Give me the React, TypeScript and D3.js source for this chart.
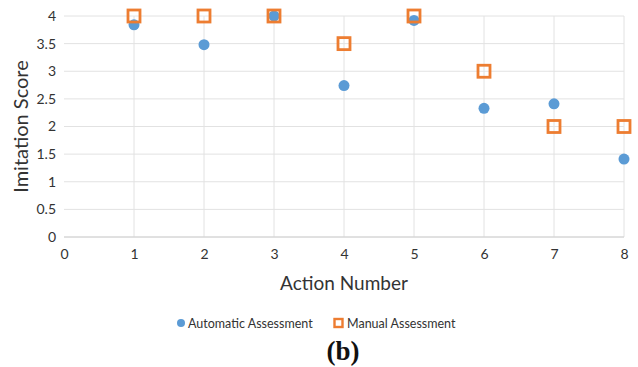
import { useEffect, useRef } from 'react';
import * as d3 from 'd3';

const actions = [1, 2, 3, 4, 5, 6, 7, 8];
const automatic = [3.84, 3.48, 4.0, 2.74, 3.92, 2.33, 2.41, 1.41];
const manual = [4, 4, 4, 3.5, 4, 3, 2, 2];
const xTicks = [0, 1, 2, 3, 4, 5, 6, 7, 8];
const yTicks = [0, 0.5, 1, 1.5, 2, 2.5, 3, 3.5, 4];

const BLUE = '#5B9BD5';
const ORANGE = '#ED7D31';
const FONT = 'Lato, Open Sans, sans-serif';

export default function App() {
  const ref = useRef<SVGSVGElement>(null);

  useEffect(() => {
    const el = ref.current;
    if (!el) return;
    const svg = d3.select(el);
    svg.selectAll('*').remove();

    const W = 638, H = 367;
    const x = d3.scaleLinear().domain([0, 8]).range([64, 624]);
    const y = d3.scaleLinear().domain([0, 4]).range([237, 16]);

    svg.append('rect').attr('width', W).attr('height', H).attr('fill', '#fff');

    // grid
    const grid = svg.append('g');
    grid.selectAll('line.h').data(yTicks).join('line')
      .attr('x1', x(0)).attr('x2', x(8))
      .attr('y1', d => y(d)).attr('y2', d => y(d))
      .attr('stroke', '#e2e2e2').attr('stroke-width', 1);
    grid.selectAll('line.v').data(xTicks.slice(1)).join('line')
      .attr('x1', d => x(d)).attr('x2', d => x(d))
      .attr('y1', y(0)).attr('y2', y(4))
      .attr('stroke', '#e2e2e2').attr('stroke-width', 1);
    svg.append('line')
      .attr('x1', x(0)).attr('x2', x(8)).attr('y1', y(0)).attr('y2', y(0))
      .attr('stroke', '#d0d0d0');

    // axes
    const yAxis = svg.append('g').attr('transform', `translate(${x(0)},0)`)
      .call(d3.axisLeft(y).tickValues(yTicks).tickSize(0).tickPadding(8).tickFormat(d => `${d}`));
    yAxis.select('.domain').remove();
    yAxis.selectAll('text').style('font-family', FONT).style('font-size', '14px').style('fill', '#333');

    const xAxis = svg.append('g').attr('transform', `translate(0,${y(0)})`)
      .call(d3.axisBottom(x).tickValues(xTicks).tickSize(0).tickPadding(12).tickFormat(d => `${d}`));
    xAxis.select('.domain').remove();
    xAxis.selectAll('text').style('font-family', FONT).style('font-size', '14px').style('fill', '#333');

    svg.append('text')
      .attr('transform', `translate(28,${(y(0) + y(4)) / 2}) rotate(-90)`)
      .attr('text-anchor', 'middle')
      .style('font-family', FONT).style('font-size', '20px').style('fill', '#333')
      .text('Imitation Score');

    svg.append('text')
      .attr('x', 344).attr('y', 290)
      .attr('text-anchor', 'middle')
      .style('font-family', FONT).style('font-size', '19px').style('fill', '#333')
      .text('Action Number');

    // points
    svg.append('g').selectAll('circle').data(actions).join('circle')
      .attr('cx', d => x(d)).attr('cy', (_, i) => y(automatic[i]))
      .attr('r', 5.5).attr('fill', BLUE);

    svg.append('g').selectAll('rect').data(actions).join('rect')
      .attr('x', d => x(d) - 6).attr('y', (_, i) => y(manual[i]) - 6)
      .attr('width', 12).attr('height', 12)
      .attr('fill', 'none').attr('stroke', ORANGE).attr('stroke-width', 2.8);

    // legend
    const lg = svg.append('g').style('font-family', FONT).style('font-size', '12.5px').style('fill', '#333');
    lg.append('circle').attr('cx', 181).attr('cy', 323).attr('r', 4).attr('fill', BLUE);
    lg.append('text').attr('x', 188).attr('y', 327.5).text('Automatic Assessment');
    lg.append('rect').attr('x', 334.5).attr('y', 319).attr('width', 8).attr('height', 8)
      .attr('fill', 'none').attr('stroke', ORANGE).attr('stroke-width', 2.4);
    lg.append('text').attr('x', 347).attr('y', 327.5).text('Manual Assessment');

    svg.append('text')
      .attr('x', 343).attr('y', 360).attr('text-anchor', 'middle')
      .style('font-family', 'Liberation Serif, DejaVu Serif, serif')
      .style('font-size', '27px').style('font-weight', 'bold').style('fill', '#111')
      .text('(b)');
  }, []);

  return (
    <svg ref={ref} width={638} height={367}
      style={{ position: 'absolute', left: 0, top: 0, display: 'block' }} />
  );
}
